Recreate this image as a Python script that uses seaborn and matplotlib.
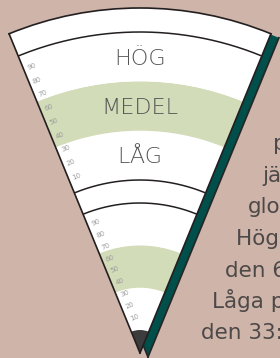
import numpy as np
import matplotlib
matplotlib.use("Agg")
import matplotlib.pyplot as plt
import seaborn as sns

# ── DATA ──────────────────────────────────────────────────
levels = ["LÅG", "MEDEL", "HÖG"]            # bottom -> top
band_edges = [0, 33.3, 66.7, 100]            # percentile bands
tick_values = [10, 20, 30, 40, 50, 60, 70, 80, 90]
tick_labels = [str(v) for v in tick_values]
side_lines = ["poäng", "jämfört", "globalt.", "Höga poäng:",
              "den 66:e", "Låga poäng:", "den 33:e"]

# ── STYLE ─────────────────────────────────────────────────
sns.set_theme(style="white")
plt.rcParams["font.family"] = ["DejaVu Sans"]

BG = "#CEB4A9"
GREEN = "#D3DCB8"
TEAL = "#004F4A"
CAP = "#3C3C3C"
INK = "#231F20"
band_colors = ["white", GREEN, "white"]

W, H = 280, 358
HALF = np.deg2rad(22.3)
R_OUT = 345          # outer rim radius (px)
R_RIM = 321
upper = (173, 321)   # radius range of the big gauge
lower = (23, 150)    # radius range of the small gauge
R_CAP = 23
APEX = (140, 5)      # apex in figure pixels (y up)


def to_r(v, g):
    lo, hi = g
    return lo + v / 100 * (hi - lo)


fig = plt.figure(figsize=(W / 100, H / 100), dpi=100)
fig.patch.set_facecolor(BG)

rect = [(APEX[0] - R_OUT / 2) / W, APEX[1] / H, R_OUT / W, R_OUT / H]


def wedge_axes(r, face):
    a = fig.add_axes(r, projection="polar")
    a.set_thetamin(90 - np.rad2deg(HALF))
    a.set_thetamax(90 + np.rad2deg(HALF))
    a.set_rlim(0, R_OUT)
    a.set_facecolor(face)
    a.set_xticks([])
    a.set_yticks([])
    a.grid(False)
    return a


# shadow
shadow = wedge_axes([rect[0] + 8 / W, rect[1] - 4 / H, rect[2], rect[3]], TEAL)
for s in shadow.spines.values():
    s.set_visible(False)

ax = wedge_axes(rect, "white")
for s in ax.spines.values():
    s.set_color(INK)
    s.set_linewidth(1.2)

# bands
for g in (upper, lower):
    for i, col in enumerate(band_colors):
        b0, b1 = to_r(band_edges[i], g), to_r(band_edges[i + 1], g)
        ax.bar(np.pi / 2, b1 - b0, width=2 * HALF, bottom=b0,
               color=col, edgecolor="none", linewidth=0)
ax.bar(np.pi / 2, R_CAP, width=2 * HALF, bottom=0, color=CAP,
       edgecolor="none", linewidth=0)

# arc lines
th = np.linspace(np.pi / 2 - HALF, np.pi / 2 + HALF, 200)
for r in (R_RIM, upper[0], lower[1]):
    ax.plot(th, np.full_like(th, r), color=INK, lw=1.1)

# level labels (big gauge)
for i, lab in enumerate(levels):
    mid = (band_edges[i] + band_edges[i + 1]) / 2
    ax.text(np.pi / 2, to_r(mid, upper) - 8, lab, ha="center", va="baseline",
            fontsize=16, color="#555555", fontweight="light")

# tick labels along the left edge
for g in (upper, lower):
    for v, lab in zip(tick_values, tick_labels):
        r = to_r(v, g)
        ax.text(np.pi / 2 + HALF - 4 / r, r, lab, ha="left", va="center",
                rotation=np.rad2deg(HALF), rotation_mode="anchor",
                fontsize=5, color="#9A9A9A")

# side text, cut by the right border as in the source panel
side_x = [273, 262, 248, 236, 225, 212, 201]
side_y = [150, 182, 213, 245, 277, 308, 339]
for s, x, y in zip(side_lines, side_x, side_y):
    fig.text(x / W, 1 - y / H, s, ha="left", va="baseline",
             fontsize=15.5, color="#4D4949")

fig.savefig("out.png", dpi=100, facecolor=fig.get_facecolor())
